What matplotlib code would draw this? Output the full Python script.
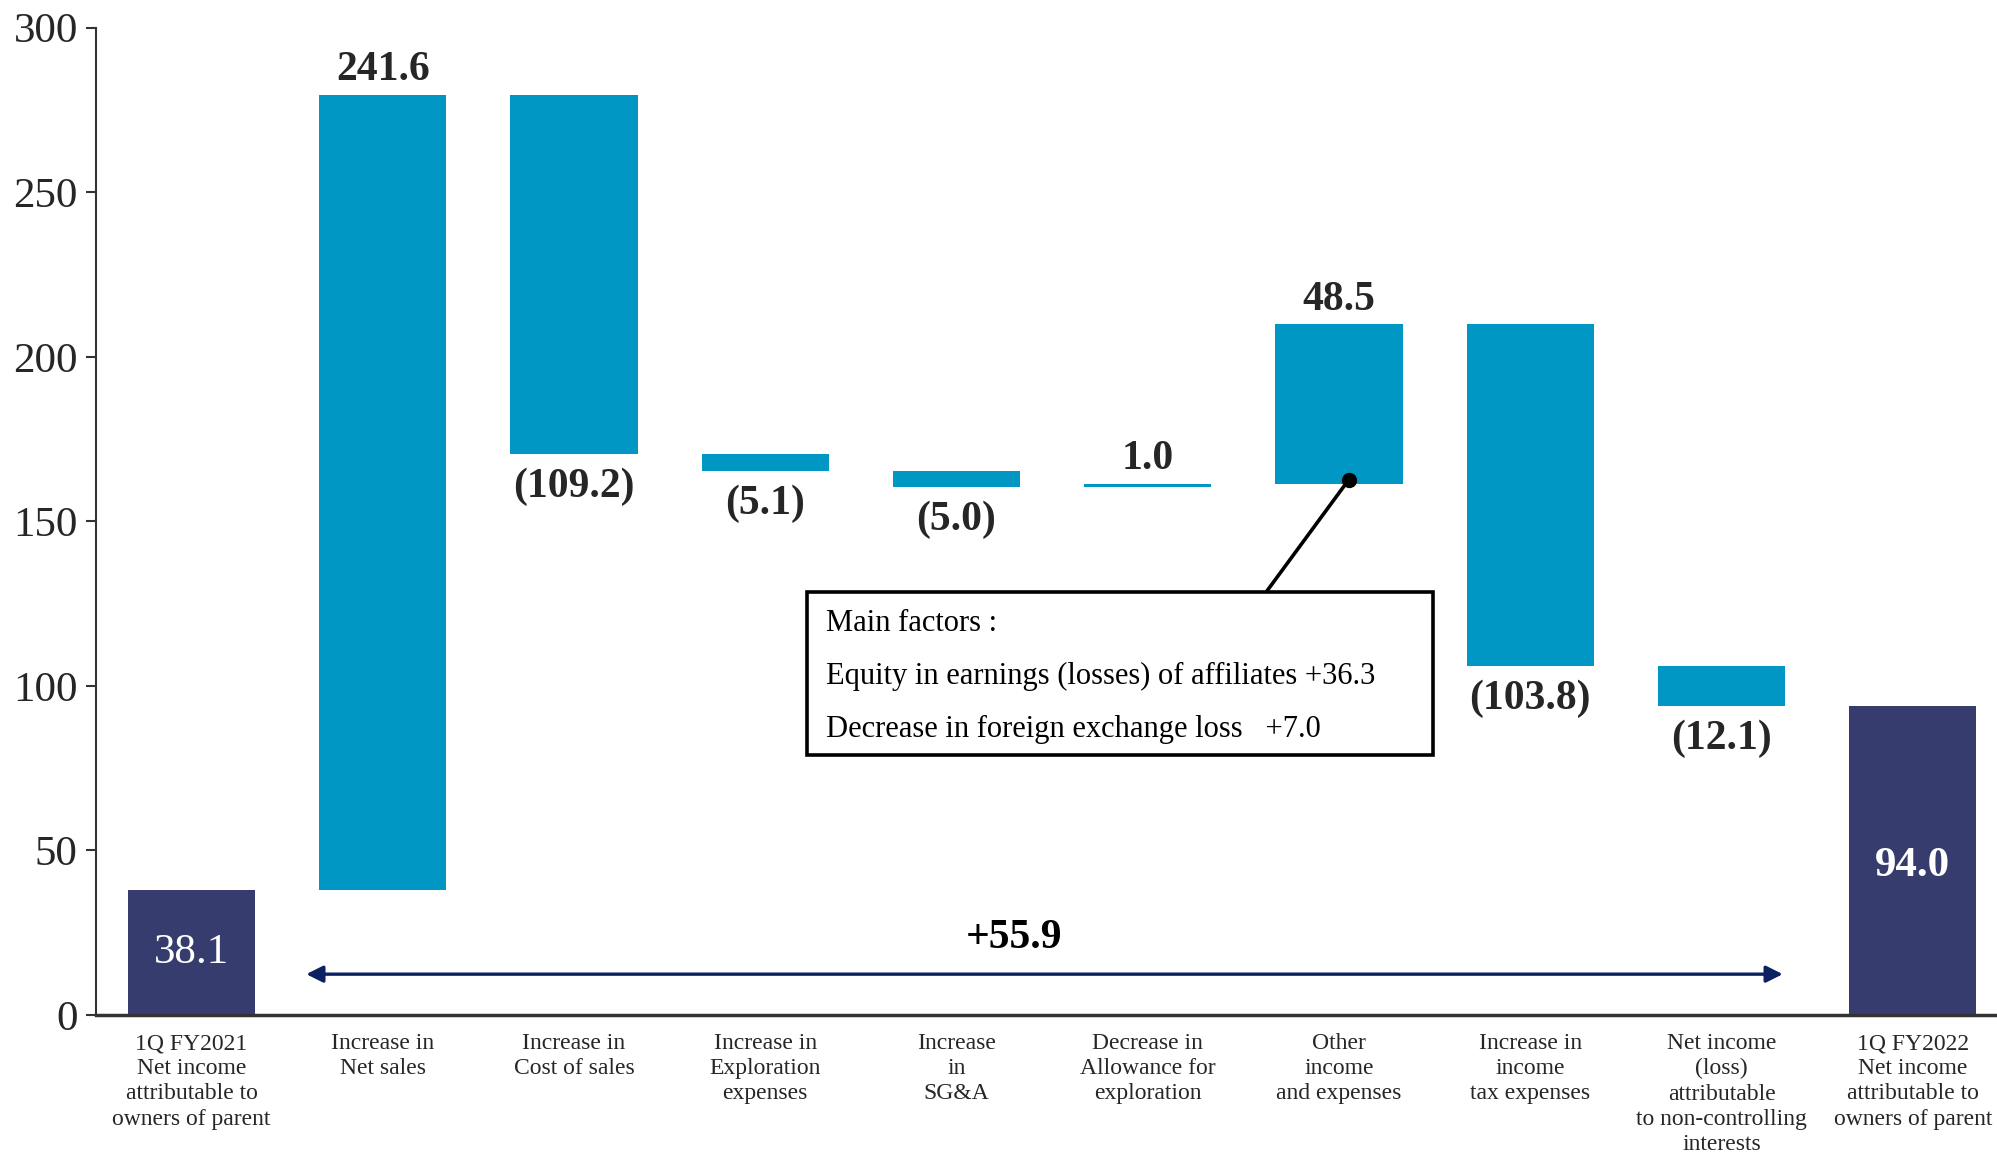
import matplotlib
matplotlib.use("Agg")
import matplotlib.pyplot as plt
from matplotlib.patches import Rectangle
import numpy as np

# ── Data ────────────────────────────────────────────────────────────────
categories = [
    "1Q FY2021\nNet income\nattributable to\nowners of parent",
    "Increase in\nNet sales",
    "Increase in\nCost of sales",
    "Increase in\nExploration\nexpenses",
    "Increase\nin\nSG&A",
    "Decrease in\nAllowance for\nexploration",
    "Other\nincome\nand expenses",
    "Increase in\nincome\ntax expenses",
    "Net income\n(loss)\nattributable\nto non-controlling\ninterests",
    "1Q FY2022\nNet income\nattributable to\nowners of parent",
]
start_value = 38.1
deltas = [241.6, -109.2, -5.1, -5.0, 1.0, 48.5, -103.8, -12.1]
end_value = 94.0
total_change = 55.9

yticks = [0, 50, 100, 150, 200, 250, 300]
factor_lines = [
    "Main factors :",
    "Equity in earnings (losses) of affiliates +36.3",
    "Decrease in foreign exchange loss   +7.0",
]

# ── Style ───────────────────────────────────────────────────────────────
CYAN = "#0097C4"
NAVY = "#373C6E"
ARROW = "#0B2161"
TEXT = "#262626"
plt.rcParams["font.family"] = ["Liberation Serif", "DejaVu Serif"]

fig = plt.figure(figsize=(19.97, 11.56), dpi=100)
ax = fig.add_axes([0.048, 0.122, 0.952, 0.854])

x = np.arange(len(categories))
width = 0.665

# running totals for the floating bars
levels = start_value + np.concatenate([[0], np.cumsum(deltas)])
bottoms = np.where(np.array(deltas) >= 0, levels[:-1], levels[1:])
heights = np.abs(deltas)

ax.bar(x[0], start_value, width, color=NAVY)
ax.bar(x[-1], end_value, width, color=NAVY)
ax.bar(x[1:-1], heights, width, bottom=bottoms, color=CYAN)

# value labels
for xi, d, lo, hi in zip(x[1:-1], deltas, levels[:-1], levels[1:]):
    if d >= 0:
        ax.annotate(f"{d:.1f}", (xi, hi), xytext=(0, 4), textcoords="offset points",
                    ha="center", va="bottom", fontsize=30, fontweight="bold", color=TEXT)
    else:
        ax.annotate(f"({-d:.1f})", (xi, hi), xytext=(0, -10), textcoords="offset points",
                    ha="center", va="top", fontsize=30, fontweight="bold", color=TEXT)

ax.text(x[0], start_value / 2, f"{start_value:.1f}", ha="center", va="center",
        fontsize=31, color="white")
ax.text(x[-1], end_value * 0.48, f"{end_value:.1f}", ha="center", va="center",
        fontsize=31, fontweight="bold", color="white")

# total change arrow
ax.annotate("", xy=(0.60, 12.4), xytext=(8.32, 12.4),
            arrowprops=dict(arrowstyle="<|-|>", color=ARROW, lw=2.4,
                            mutation_scale=25, shrinkA=0, shrinkB=0))
ax.text(4.3, 17.5, f"+{total_change:.1f}", ha="center", va="bottom",
        fontsize=30, fontweight="bold", color="black")

# callout box for other income
box = Rectangle((3.22, 79.0), 3.27, 49.6, facecolor="white", edgecolor="black",
                lw=2.6, zorder=4)
ax.add_patch(box)
ax.plot([6.05, 5.62], [162.6, 128.6], color="black", lw=2.6, zorder=3)
ax.plot([6.05], [162.6], "o", color="black", ms=10, zorder=5)
for i, line in enumerate(factor_lines):
    ax.text(3.32, 119.0 - i * 16.2, line, ha="left", va="center",
            fontsize=22, color="black", zorder=6)

# axes
ax.set_xlim(-0.5, 9.44)
ax.set_ylim(0, 300)
ax.set_yticks(yticks)
ax.set_xticks(x)
ax.set_xticklabels(categories, fontsize=17, color=TEXT, linespacing=1.26)
ax.tick_params(axis="x", length=0, pad=13)
ax.tick_params(axis="y", labelsize=31, labelcolor=TEXT, length=7, width=1.5,
               color="#333333", pad=6)
for side in ("top", "right"):
    ax.spines[side].set_visible(False)
ax.spines["left"].set_color("#333333")
ax.spines["left"].set_linewidth(1.5)
ax.spines["bottom"].set_color("#333333")
ax.spines["bottom"].set_linewidth(2.5)

fig.savefig("out.png", dpi=100)
